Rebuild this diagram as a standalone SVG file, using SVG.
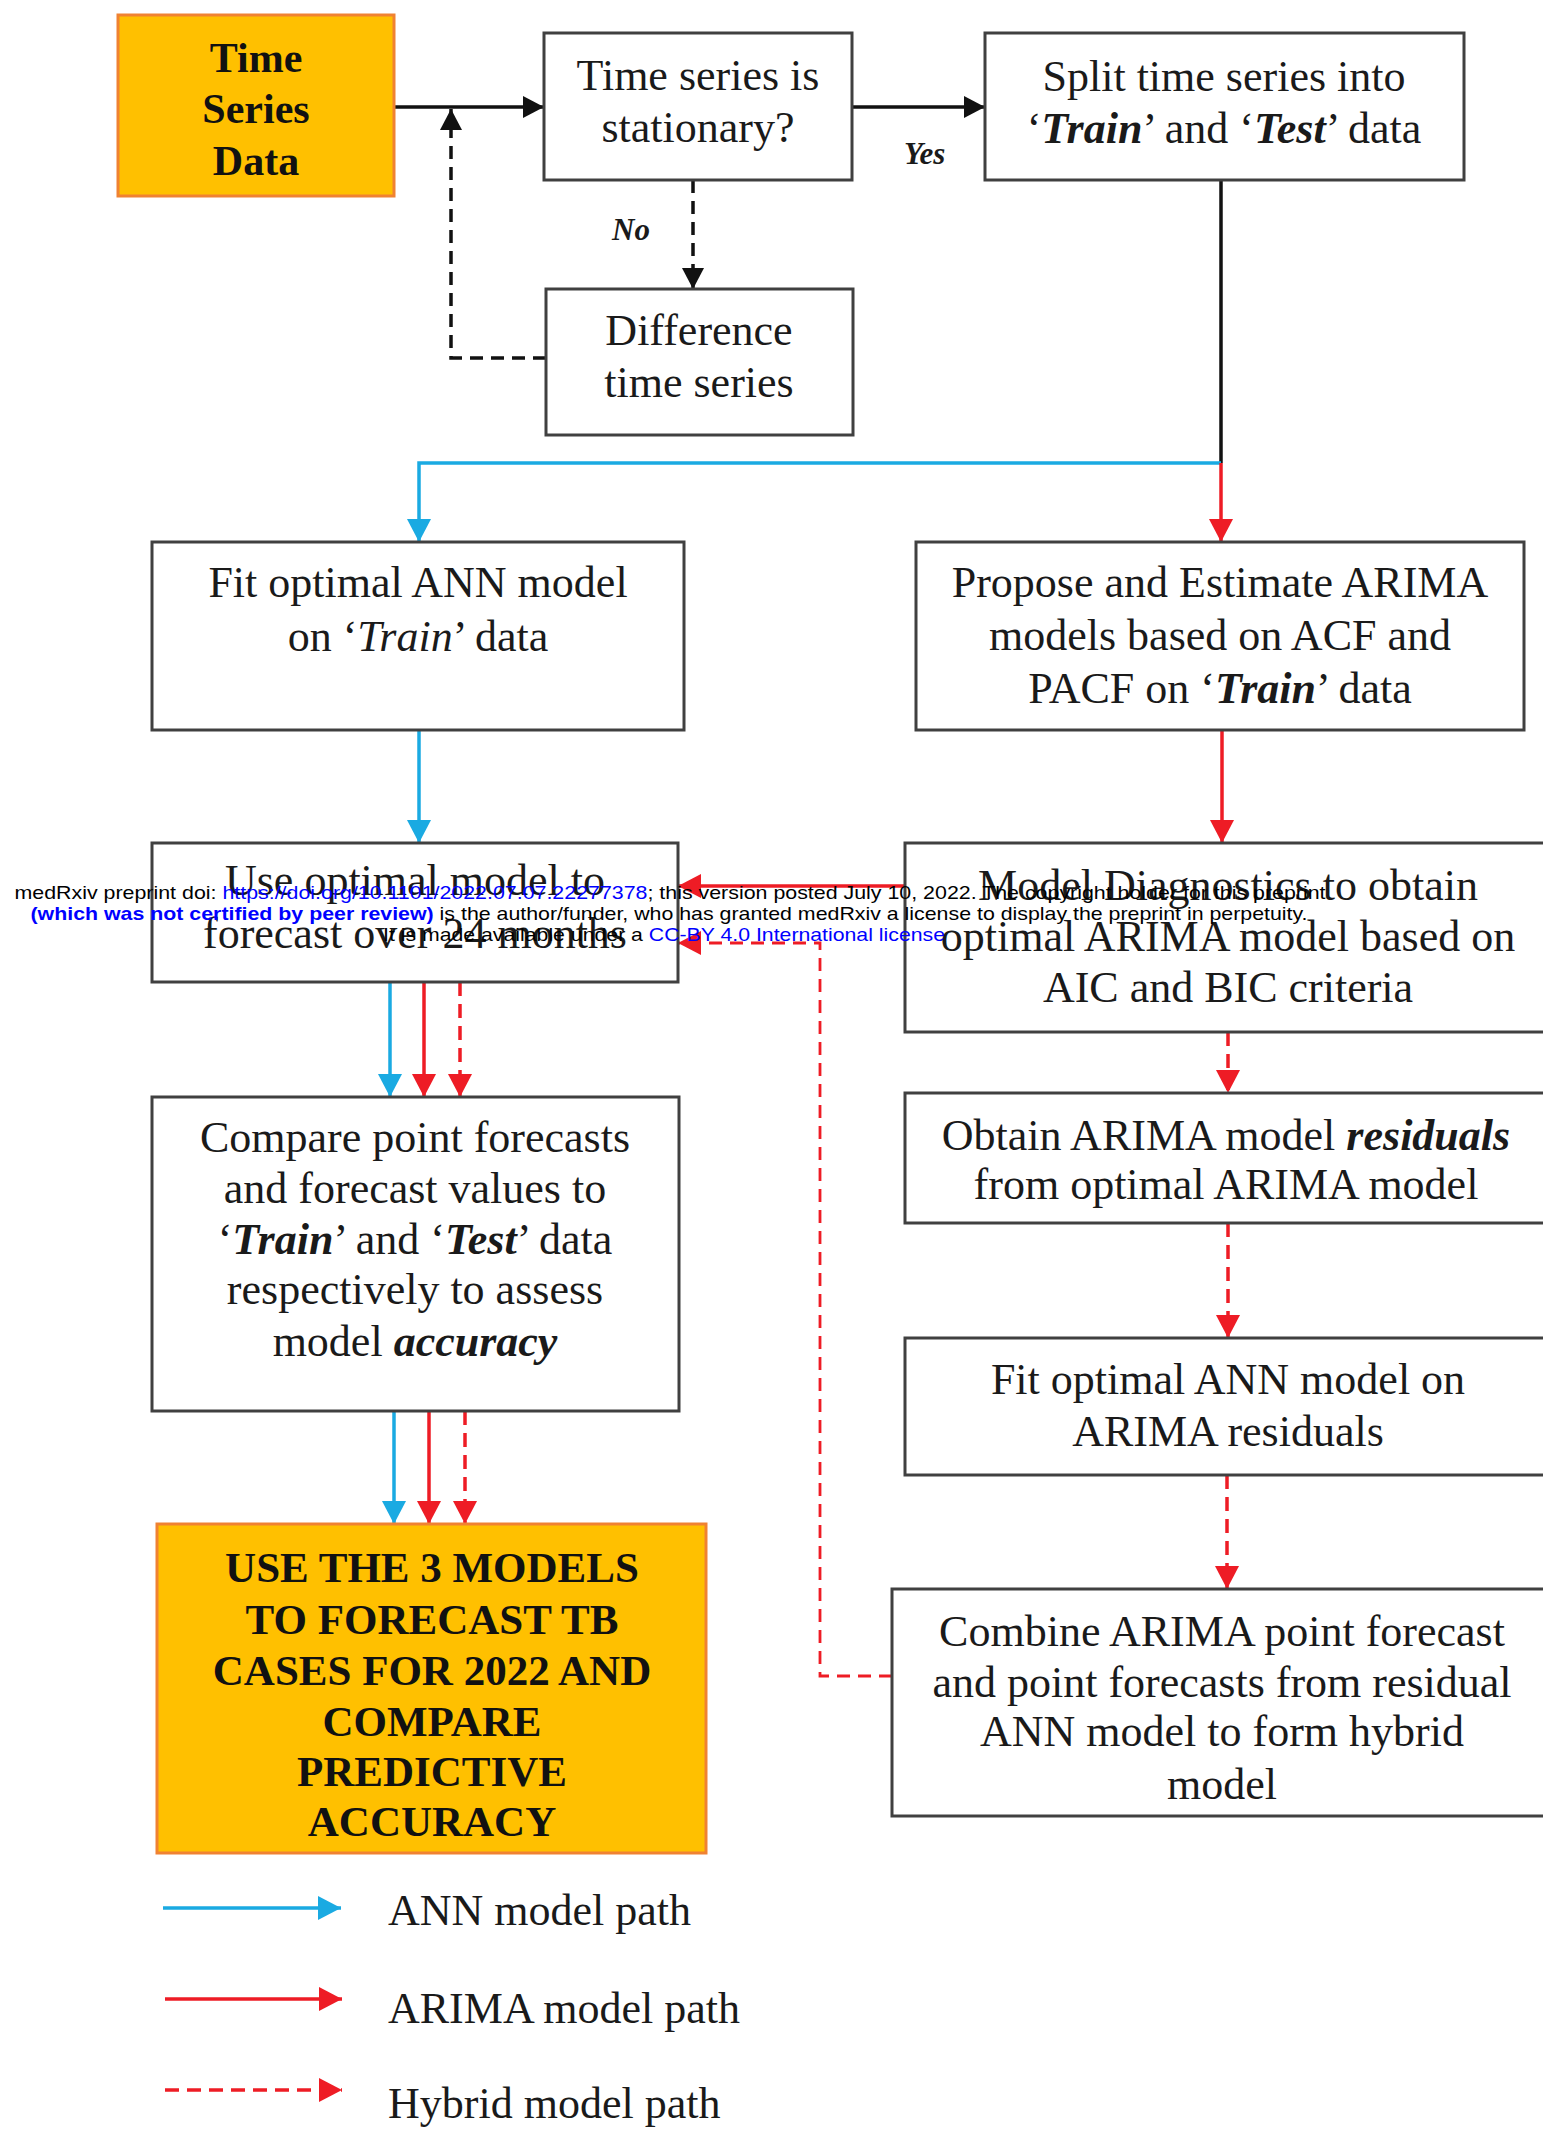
<svg xmlns="http://www.w3.org/2000/svg" width="1543" height="2129" viewBox="0 0 1543 2129">
<style>
.box{fill:#fff;stroke:#404040;stroke-width:3}
.hl{fill:#FFC000;stroke:#F08232;stroke-width:3}
.t{font-family:"Liberation Serif","Times New Roman",serif;font-size:44px;fill:#1a1a1a;text-anchor:middle}
.tb{font-family:"Liberation Serif","Times New Roman",serif;font-size:42px;font-weight:bold;fill:#111;text-anchor:middle}
.bi{font-weight:bold;font-style:italic}
.it{font-style:italic}
.lbl{font-family:"Liberation Serif","Times New Roman",serif;font-size:31px;font-weight:bold;font-style:italic;fill:#1a1a1a}
.k{fill:none;stroke:#111;stroke-width:3.5}
.kd{fill:none;stroke:#111;stroke-width:3.5;stroke-dasharray:13 8}
.b{fill:none;stroke:#1AAAE2;stroke-width:3.5}
.r{fill:none;stroke:#EE1C25;stroke-width:3.5}
.rd{fill:none;stroke:#EE1C25;stroke-width:3.5;stroke-dasharray:14 8}
.rd2{fill:none;stroke:#EE1C25;stroke-width:2.8;stroke-dasharray:13 8}
.wm{font-family:"Liberation Sans",Arial,sans-serif;font-size:19px;fill:#000;text-anchor:middle}
.wl{fill:#0000FF}
</style>
<defs>
<marker id="ak" markerUnits="userSpaceOnUse" markerWidth="22" markerHeight="22" refX="21" refY="11" orient="auto"><path d="M0,0 L21,11 L0,22 z" fill="#111"/></marker>
<marker id="ab" markerUnits="userSpaceOnUse" markerWidth="24" markerHeight="24" refX="23" refY="12" orient="auto"><path d="M0,0 L23,12 L0,24 z" fill="#1AAAE2"/></marker>
<marker id="ar" markerUnits="userSpaceOnUse" markerWidth="24" markerHeight="24" refX="23" refY="12" orient="auto"><path d="M0,0 L23,12 L0,24 z" fill="#EE1C25"/></marker>
</defs>
<rect width="1543" height="2129" fill="#fff"/>

<g id="connectors">
<path class="k" d="M394,107 H544" marker-end="url(#ak)"/>
<path class="k" d="M852,107 H985" marker-end="url(#ak)"/>
<path class="kd" d="M693,180 V289" marker-end="url(#ak)"/>
<path class="kd" d="M546,358 H451 V109" marker-end="url(#ak)"/>
<path class="k" d="M1221,180 V463"/>
<path class="b" d="M1221,463 H419 V542" marker-end="url(#ab)"/>
<path class="r" d="M1221,463 V542" marker-end="url(#ar)"/>
<path class="b" d="M419,730 V843" marker-end="url(#ab)"/>
<path class="r" d="M1222,730 V843" marker-end="url(#ar)"/>
<path class="r" d="M905,886 H678" marker-end="url(#ar)"/>
<path class="rd" d="M1228,1032 V1093" marker-end="url(#ar)"/>
<path class="rd" d="M1228,1223 V1338" marker-end="url(#ar)"/>
<path class="rd" d="M1227,1475 V1589" marker-end="url(#ar)"/>
<path class="rd2" d="M892,1676 H820 V943 H678" marker-end="url(#ar)"/>
<path class="b" d="M390,982 V1097" marker-end="url(#ab)"/>
<path class="r" d="M424,982 V1097" marker-end="url(#ar)"/>
<path class="rd" d="M460,982 V1097" marker-end="url(#ar)"/>
<path class="b" d="M394,1411 V1524" marker-end="url(#ab)"/>
<path class="r" d="M429,1411 V1524" marker-end="url(#ar)"/>
<path class="rd" d="M465,1411 V1524" marker-end="url(#ar)"/>
</g>

<g id="labels">
<text class="lbl" x="904" y="164">Yes</text>
<text class="lbl" x="612" y="240">No</text>
</g>

<g id="n-tsd">
<rect class="hl" x="118" y="15" width="276" height="181"/>
<text class="tb" x="256" y="72">Time</text>
<text class="tb" x="256" y="123">Series</text>
<text class="tb" x="256" y="175">Data</text>
</g>

<g id="n-stationary">
<rect class="box" x="544" y="33" width="308" height="147"/>
<text class="t" x="698" y="90">Time series is</text>
<text class="t" x="698" y="142">stationary?</text>
</g>

<g id="n-split">
<rect class="box" x="985" y="33" width="479" height="147"/>
<text class="t" x="1224" y="91">Split time series into</text>
<text class="t" x="1224" y="143">‘<tspan class="bi">Train</tspan>’ and ‘<tspan class="bi">Test</tspan>’ data</text>
</g>

<g id="n-difference">
<rect class="box" x="546" y="289" width="307" height="146"/>
<text class="t" x="699" y="345">Difference</text>
<text class="t" x="699" y="397">time series</text>
</g>

<g id="n-fitann">
<rect class="box" x="152" y="542" width="532" height="188"/>
<text class="t" x="418" y="597">Fit optimal ANN model</text>
<text class="t" x="418" y="651">on ‘<tspan class="it">Train</tspan>’ data</text>
</g>

<g id="n-propose">
<rect class="box" x="916" y="542" width="608" height="188"/>
<text class="t" x="1220" y="597">Propose and Estimate ARIMA</text>
<text class="t" x="1220" y="650">models based on ACF and</text>
<text class="t" x="1220" y="703">PACF on ‘<tspan class="bi">Train</tspan>’ data</text>
</g>

<g id="n-useoptimal">
<rect class="box" x="152" y="843" width="526" height="139"/>
<text class="t" x="415" y="895">Use optimal model to</text>
<text class="t" x="415" y="948">forecast over 24 months</text>
</g>

<g id="n-diagnostics">
<rect class="box" x="905" y="843" width="645" height="189"/>
<text class="t" x="1228" y="900">Model Diagnostics to obtain</text>
<text class="t" x="1228" y="951">optimal ARIMA model based on</text>
<text class="t" x="1228" y="1002">AIC and BIC criteria</text>
</g>

<g id="n-compare">
<rect class="box" x="152" y="1097" width="527" height="314"/>
<text class="t" x="415" y="1152">Compare point forecasts</text>
<text class="t" x="415" y="1203">and forecast values to</text>
<text class="t" x="415" y="1254">‘<tspan class="bi">Train</tspan>’ and ‘<tspan class="bi">Test</tspan>’ data</text>
<text class="t" x="415" y="1304">respectively to assess</text>
<text class="t" x="415" y="1356">model <tspan class="bi">accuracy</tspan></text>
</g>

<g id="n-residuals">
<rect class="box" x="905" y="1093" width="645" height="130"/>
<text class="t" x="1226" y="1150">Obtain ARIMA model <tspan class="bi">residuals</tspan></text>
<text class="t" x="1226" y="1199">from optimal ARIMA model</text>
</g>

<g id="n-fitresid">
<rect class="box" x="905" y="1338" width="645" height="137"/>
<text class="t" x="1228" y="1394">Fit optimal ANN model on</text>
<text class="t" x="1228" y="1446">ARIMA residuals</text>
</g>

<g id="n-combine">
<rect class="box" x="892" y="1589" width="660" height="227"/>
<text class="t" x="1222" y="1646">Combine ARIMA point forecast</text>
<text class="t" x="1222" y="1697">and point forecasts from residual</text>
<text class="t" x="1222" y="1746">ANN model to form hybrid</text>
<text class="t" x="1222" y="1799">model</text>
</g>

<g id="n-final">
<rect class="hl" x="157" y="1524" width="549" height="329"/>
<text class="tb" x="432" y="1582" style="font-size:43px">USE THE 3 MODELS</text>
<text class="tb" x="432" y="1634" style="font-size:43px">TO FORECAST TB</text>
<text class="tb" x="432" y="1685" style="font-size:43px">CASES FOR 2022 AND</text>
<text class="tb" x="432" y="1736" style="font-size:43px">COMPARE</text>
<text class="tb" x="432" y="1786" style="font-size:43px">PREDICTIVE</text>
<text class="tb" x="432" y="1836" style="font-size:43px">ACCURACY</text>
</g>

<g id="legend">
<path class="b" d="M163,1908 H341" marker-end="url(#ab)"/>
<path class="r" d="M165,1999 H342" marker-end="url(#ar)"/>
<path class="rd" d="M165,2090 H342" marker-end="url(#ar)"/>
<text class="t" x="388" y="1925" style="text-anchor:start">ANN model path</text>
<text class="t" x="388" y="2023" style="text-anchor:start">ARIMA model path</text>
<text class="t" x="388" y="2118" style="text-anchor:start">Hybrid model path</text>
</g>

<g id="watermark">
<text class="wm" x="670" y="899" textLength="1311" lengthAdjust="spacingAndGlyphs">medRxiv preprint doi: <tspan class="wl">https://doi.org/10.1101/2022.07.07.22277378</tspan>; this version posted July 10, 2022. The copyright holder for this preprint</text>
<text class="wm" x="669" y="920" textLength="1277" lengthAdjust="spacingAndGlyphs"><tspan class="wl" font-weight="bold">(which was not certified by peer review)</tspan> is the author/funder, who has granted medRxiv a license to display the preprint in perpetuity.</text>
<text class="wm" x="664" y="941" textLength="562" lengthAdjust="spacingAndGlyphs">It is made available under a <tspan class="wl">CC-BY 4.0 International license</tspan></text>
</g>
</svg>
